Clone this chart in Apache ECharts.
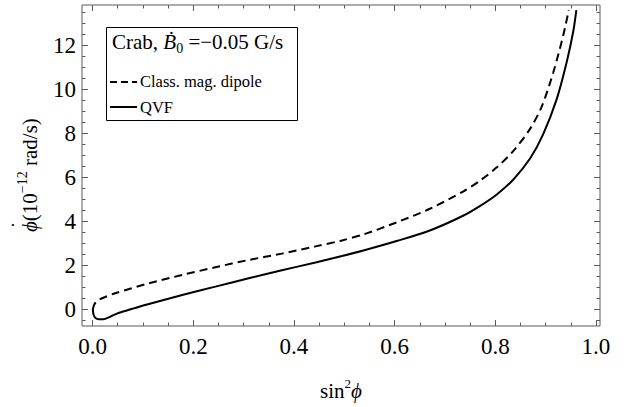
<!DOCTYPE html>
<html>
<head>
<meta charset="utf-8">
<script src="https://cdn.jsdelivr.net/npm/echarts@6/dist/echarts.min.js"></script>
<style>
  html, body { margin: 0; padding: 0; background: #fff; }
  #chart { width: 629px; height: 407px; }
</style>
</head>
<body>
<div id="chart"></div>
<script>
// sin^2(phi) vs phi-dot
const dipoleX = [0.0005, 0.003, 0.008, 0.019, 0.045, 0.112, 0.178, 0.244, 0.31, 0.376, 0.443, 0.4955, 0.538, 0.604, 0.67, 0.736, 0.77, 0.803, 0.836, 0.869, 0.892, 0.915, 0.935, 0.946];
const dipoleY = [-0.02, 0.2, 0.36, 0.5, 0.73, 1.18, 1.56, 1.91, 2.24, 2.53, 2.86, 3.13, 3.4, 3.95, 4.57, 5.35, 5.85, 6.45, 7.2, 8.2, 9.2, 10.75, 12.45, 13.6];

const qvfX = [0.0005, 0.002, 0.006, 0.012, 0.022, 0.032, 0.046, 0.08, 0.112, 0.178, 0.244, 0.31, 0.376, 0.443, 0.4955, 0.538, 0.604, 0.67, 0.736, 0.77, 0.803, 0.836, 0.869, 0.895, 0.922, 0.942, 0.955, 0.961];
const qvfY = [0.0, -0.25, -0.4, -0.45, -0.45, -0.37, -0.22, 0.03, 0.24, 0.65, 1.03, 1.41, 1.77, 2.13, 2.42, 2.67, 3.1, 3.58, 4.25, 4.7, 5.22, 5.9, 6.85, 7.95, 9.55, 11.25, 12.65, 13.6];

const xMajor = [0, 0.2, 0.4, 0.6, 0.8, 1.0];
const xMinor = [0.05, 0.1, 0.15, 0.25, 0.3, 0.35, 0.45, 0.5, 0.55, 0.65, 0.7, 0.75, 0.85, 0.9, 0.95];
const yMajor = [0, 2, 4, 6, 8, 10, 12];
const yMinor = [-0.5, 0.5, 1, 1.5, 2.5, 3, 3.5, 4.5, 5, 5.5, 6.5, 7, 7.5, 8.5, 9, 9.5, 10.5, 11, 11.5, 12.5, 13, 13.5];

const X_MIN = -0.021, X_MAX = 1.008;
const Y_MIN = -0.76, Y_MAX = 13.83;

const SERIF = 'Liberation Serif';
const FRAME = '#5a5a5a';
const MAJOR = 6, MINOR = 3.5;

const zip = (xs, ys) => xs.map((x, i) => [x, ys[i]]);

const tickFont = { color: '#000', fontFamily: SERIF, fontSize: 23 };

// one grid per tick set, all stacked on the same rectangle, so no two axes share a side
const box = { left: 82, top: 5, width: 518, height: 321, containLabel: false };

function xAx(grid, pos, ticks, len, labels) {
  return {
    type: 'value', gridIndex: grid, min: X_MIN, max: X_MAX, position: pos,
    axisLine: { show: false, onZero: false },
    splitLine: { show: false },
    axisTick: { show: true, inside: true, length: len, customValues: ticks, lineStyle: { color: FRAME, width: 1 } },
    axisLabel: labels ? Object.assign({
      show: true, customValues: ticks, margin: 9,
      formatter: v => v.toFixed(1),
    }, tickFont) : { show: false },
  };
}

function yAx(grid, pos, ticks, len, labels) {
  return {
    type: 'value', gridIndex: grid, min: Y_MIN, max: Y_MAX, position: pos,
    axisLine: { show: false, onZero: false },
    splitLine: { show: false },
    axisTick: { show: true, inside: true, length: len, customValues: ticks, lineStyle: { color: FRAME, width: 1 } },
    axisLabel: labels ? Object.assign({
      show: true, customValues: ticks, margin: 6,
      formatter: v => String(v),
    }, tickFont) : { show: false },
  };
}

const chart = echarts.init(document.getElementById('chart'), null, { renderer: 'svg' });

chart.setOption({
  animation: false,
  backgroundColor: '#fff',
  grid: [
    Object.assign({ show: true, borderColor: FRAME, borderWidth: 1, backgroundColor: 'transparent' }, box),
    Object.assign({}, box),
    Object.assign({}, box),
    Object.assign({}, box),
  ],
  xAxis: [
    xAx(0, 'bottom', xMajor, MAJOR, true),
    xAx(1, 'top', xMajor, MAJOR, false),
    xAx(2, 'bottom', xMinor, MINOR, false),
    xAx(3, 'top', xMinor, MINOR, false),
  ],
  yAxis: [
    yAx(0, 'left', yMajor, MAJOR, true),
    yAx(1, 'right', yMajor, MAJOR, false),
    yAx(2, 'left', yMinor, MINOR, false),
    yAx(3, 'right', yMinor, MINOR, false),
  ],
  series: [
    {
      name: 'Class. mag. dipole', type: 'line', xAxisIndex: 0, yAxisIndex: 0,
      data: zip(dipoleX, dipoleY), showSymbol: false, smooth: 0.3, clip: true,
      lineStyle: { color: '#000', width: 2, type: [8, 5] },
    },
    {
      name: 'QVF', type: 'line', xAxisIndex: 0, yAxisIndex: 0,
      data: zip(qvfX, qvfY), showSymbol: false, smooth: 0.3, clip: true,
      lineStyle: { color: '#000', width: 2 },
    },
  ],
  graphic: [
    // legend box
    { type: 'rect', shape: { x: 106.5, y: 27.5, width: 191, height: 93 },
      style: { fill: '#fff', stroke: '#000', lineWidth: 1 }, z: 10 },
    { type: 'text', x: 112, y: 42, z: 11,
      style: {
        text: '{n|Crab, }{i|Ḃ}{s|0}{n| =−0.05 G/s}',
        textVerticalAlign: 'middle',
        rich: {
          n: { fontFamily: SERIF, fontSize: 21, color: '#000', lineHeight: 26 },
          i: { fontFamily: SERIF, fontSize: 21, fontStyle: 'italic', color: '#000', lineHeight: 26 },
          s: { fontFamily: SERIF, fontSize: 14, color: '#000', lineHeight: 14, verticalAlign: 'bottom' },
        },
      } },
    { type: 'line', shape: { x1: 110, y1: 82, x2: 137, y2: 82 }, z: 11,
      style: { stroke: '#000', lineWidth: 2, lineDash: [7, 4] } },
    { type: 'text', x: 140, y: 81, z: 11,
      style: { text: 'Class. mag. dipole', font: '16.5px "Liberation Serif"', fill: '#000', textVerticalAlign: 'middle' } },
    { type: 'line', shape: { x1: 110, y1: 107, x2: 137, y2: 107 }, z: 11,
      style: { stroke: '#000', lineWidth: 2 } },
    { type: 'text', x: 140, y: 107, z: 11,
      style: { text: 'QVF', font: '16.5px "Liberation Serif"', fill: '#000', textVerticalAlign: 'middle' } },
    // x axis title
    { type: 'text', x: 341, y: 391,
      style: {
        text: '{n|sin}{p|2}{i|ϕ}',
        textAlign: 'center', textVerticalAlign: 'middle',
        rich: {
          n: { fontFamily: SERIF, fontSize: 21, color: '#000', lineHeight: 28 },
          i: { fontFamily: SERIF, fontSize: 21, fontStyle: 'italic', color: '#000', lineHeight: 28 },
          p: { fontFamily: SERIF, fontSize: 13, color: '#000', lineHeight: 13, verticalAlign: 'top' },
        },
      } },
    // y axis title, rotated group so the dot can sit over the phi
    { type: 'group', x: 30, y: 168, rotation: Math.PI / 2,
      children: [
        { type: 'text', x: -64, y: 0,
          style: {
            text: '{i|ϕ}{n|(10}{p|−12}{n| rad/s)}',
            textAlign: 'left', textVerticalAlign: 'middle',
            rich: {
              n: { fontFamily: SERIF, fontSize: 21, color: '#000', lineHeight: 30 },
              i: { fontFamily: SERIF, fontSize: 21, fontStyle: 'italic', color: '#000', lineHeight: 30 },
              p: { fontFamily: SERIF, fontSize: 14, color: '#000', lineHeight: 14, verticalAlign: 'top' },
            },
          } },
        { type: 'text', x: -57, y: -11,
          style: { text: '˙', font: '21px "Liberation Serif"', fill: '#000', textAlign: 'center', textVerticalAlign: 'middle' } },
      ] },
  ],
});
</script>
</body>
</html>
